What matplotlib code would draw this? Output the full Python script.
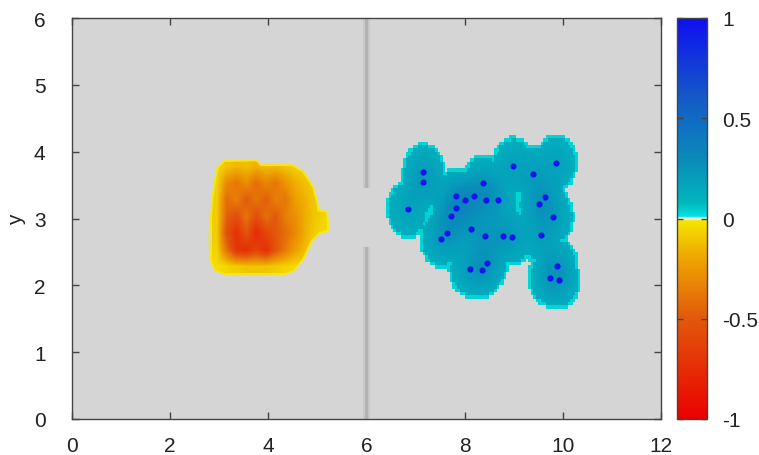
import numpy as np
import matplotlib
matplotlib.use("Agg")
import matplotlib.pyplot as plt
from matplotlib.colors import LinearSegmentedColormap
from matplotlib.patches import Polygon, Rectangle
from matplotlib.cm import ScalarMappable
from matplotlib.colors import Normalize

plt.rcParams['font.family'] = ['Liberation Sans', 'DejaVu Sans']
plt.rcParams['axes.unicode_minus'] = False

# ---------------- data ----------------
# positive particles (blue dots) of the right blob
dots_x = [7.16, 7.15, 6.84, 8.38, 7.82, 8.01, 8.18, 8.44, 8.67, 7.82, 7.72, 7.65,
          7.52, 8.12, 8.42, 8.78, 8.96, 8.99, 9.40, 9.86, 9.64, 9.51, 9.79, 9.55,
          8.11, 8.35, 8.46, 9.88, 9.73, 9.92]
dots_y = [3.70, 3.54, 3.14, 3.53, 3.33, 3.28, 3.33, 3.28, 3.28, 3.16, 3.03, 2.79,
          2.70, 2.85, 2.74, 2.74, 2.72, 3.79, 3.66, 3.83, 3.32, 3.21, 3.02, 2.75,
          2.25, 2.23, 2.33, 2.29, 2.11, 2.08]
blob_radius = 0.44

# negative region (left blob): coarse value grid, rows from top to bottom
left_extent = [2.85, 5.25, 2.15, 3.90]
left_values = [
    [-0.04, -0.10, -0.14, -0.12, -0.16, -0.12, -0.14, -0.10, -0.07, -0.05, -0.04, -0.03],
    [-0.06, -0.30, -0.38, -0.28, -0.42, -0.32, -0.38, -0.26, -0.17, -0.12, -0.07, -0.04],
    [-0.08, -0.42, -0.34, -0.50, -0.38, -0.48, -0.34, -0.38, -0.22, -0.16, -0.09, -0.05],
    [-0.08, -0.46, -0.55, -0.38, -0.55, -0.40, -0.50, -0.34, -0.28, -0.17, -0.10, -0.06],
    [-0.08, -0.55, -0.72, -0.52, -0.76, -0.60, -0.50, -0.42, -0.30, -0.17, -0.07, -0.04],
    [-0.06, -0.40, -0.70, -0.74, -0.62, -0.74, -0.52, -0.36, -0.22, -0.12, -0.05, -0.03],
    [-0.03, -0.06, -0.08, -0.10, -0.10, -0.10, -0.08, -0.06, -0.05, -0.04, -0.03, -0.03],
]
left_outline_x = [2.92, 2.97, 3.10, 3.75, 3.85, 4.50, 4.71, 4.91, 5.00, 5.02, 5.20, 5.22,
                  5.05, 4.88, 4.72, 4.52, 4.35, 3.10, 2.92, 2.82, 2.80, 2.86]
left_outline_y = [3.60, 3.77, 3.86, 3.87, 3.80, 3.80, 3.70, 3.48, 3.22, 3.12, 3.10, 2.82,
                  2.78, 2.66, 2.40, 2.22, 2.17, 2.17, 2.22, 2.38, 2.70, 3.30]

# wall with opening
wall_x = 6.0
wall_gap_low, wall_gap_high = 2.57, 3.45

x_ticks = [0, 2, 4, 6, 8, 10, 12]
y_ticks = [0, 1, 2, 3, 4, 5, 6]
cbar_ticks = [-1, -0.5, 0, 0.5, 1]
cbar_labels = ['-1', '-0.5', '0', '0.5', '1']

# ---------------- colormap ----------------
def c(r, g, b):
    return (r / 255, g / 255, b / 255)

cmap = LinearSegmentedColormap.from_list('redyel_cyanblue', [
    (0.000, c(235, 0, 0)),
    (0.250, c(226, 88, 12)),
    (0.400, c(238, 165, 0)),
    (0.494, c(245, 228, 0)),
    (0.500, c(255, 255, 255)),
    (0.506, c(0, 225, 222)),
    (0.540, c(0, 182, 190)),
    (0.650, c(10, 138, 185)),
    (0.800, c(20, 90, 200)),
    (1.000, c(15, 15, 240)),
], N=1024)

# ---------------- figure ----------------
W, H = 759, 456
fig = plt.figure(figsize=(W / 100, H / 100), dpi=100)
ax = fig.add_axes([72 / W, 36 / H, 589 / W, 401 / H])
cax = fig.add_axes([677 / W, 36 / H, 30 / W, 401 / H])

ax.set_facecolor('#d5d5d5')
ax.set_xlim(0, 12)
ax.set_ylim(0, 6)

# left blob
im = ax.imshow(np.array(left_values), extent=left_extent, origin='upper', cmap=cmap,
               vmin=-1, vmax=1, interpolation='bilinear', aspect='auto', zorder=2)
poly = Polygon(np.column_stack([left_outline_x, left_outline_y]), closed=True,
               facecolor='none', edgecolor='none')
ax.add_patch(poly)
im.set_clip_path(poly)
ax.add_patch(Polygon(np.column_stack([left_outline_x, left_outline_y]), closed=True,
                     facecolor='none', edgecolor=c(246, 230, 30), lw=1.4, zorder=3))

# right blob
dx = np.array(dots_x)
dy = np.array(dots_y)
step = 0.05
ex = np.arange(6.2, 10.8 + step, step)
ey = np.arange(1.4, 4.6 + step, step)
cx = 0.5 * (ex[:-1] + ex[1:])
cy = 0.5 * (ey[:-1] + ey[1:])
X, Y = np.meshgrid(cx, cy)
D = np.sqrt((X[..., None] - dx) ** 2 + (Y[..., None] - dy) ** 2)
dmin = D.min(axis=-1)
V = 0.11 + 0.06 * np.exp(-(D / 0.32) ** 2).sum(axis=-1)
V = np.clip(V, 0, 0.36)
V = np.where(dmin > blob_radius - step, 0.03, V)
V = np.where(dmin <= blob_radius, V, np.nan)
ax.pcolormesh(ex, ey, np.ma.masked_invalid(V), cmap=cmap, vmin=-1, vmax=1,
              shading='flat', zorder=2)
ax.scatter(dx, dy, s=20, color=c(20, 20, 235), zorder=4, linewidths=0)

# wall
for y0, y1 in [(0, wall_gap_low), (wall_gap_high, 6)]:
    ax.add_patch(Rectangle((wall_x - 0.08, y0), 0.16, y1 - y0, facecolor='#c8c8c8',
                           edgecolor='none', zorder=2))
    ax.add_patch(Rectangle((wall_x - 0.04, y0), 0.08, y1 - y0, facecolor='#b2b2b2',
                           edgecolor='none', zorder=2))

fs = 15
ax.set_xticks(x_ticks)
ax.set_yticks(y_ticks)
ax.set_xticklabels([str(v) for v in x_ticks])
ax.set_yticklabels([str(v) for v in y_ticks])
ax.tick_params(direction='in', top=True, right=True, length=5, width=1,
               color='#444444', labelsize=fs, labelcolor='#222222')
ax.tick_params(axis='y', pad=19)
ax.tick_params(axis='x', pad=12)
for s in ax.spines.values():
    s.set_color('#444444')
    s.set_linewidth(1)
ax.set_ylabel('y', fontsize=fs, color='#222222')
ax.yaxis.set_label_coords(-0.078, 0.5)

# colorbar
sm = ScalarMappable(norm=Normalize(-1, 1), cmap=cmap)
cb = fig.colorbar(sm, cax=cax, ticks=cbar_ticks)
cb.set_ticklabels(cbar_labels)
cax.tick_params(direction='in', left=True, right=True, length=4, width=1,
                color='#444444', labelsize=fs, labelcolor='#222222', pad=11)
cb.outline.set_edgecolor('#444444')
cb.outline.set_linewidth(1)

fig.savefig('out.png', dpi=100)
